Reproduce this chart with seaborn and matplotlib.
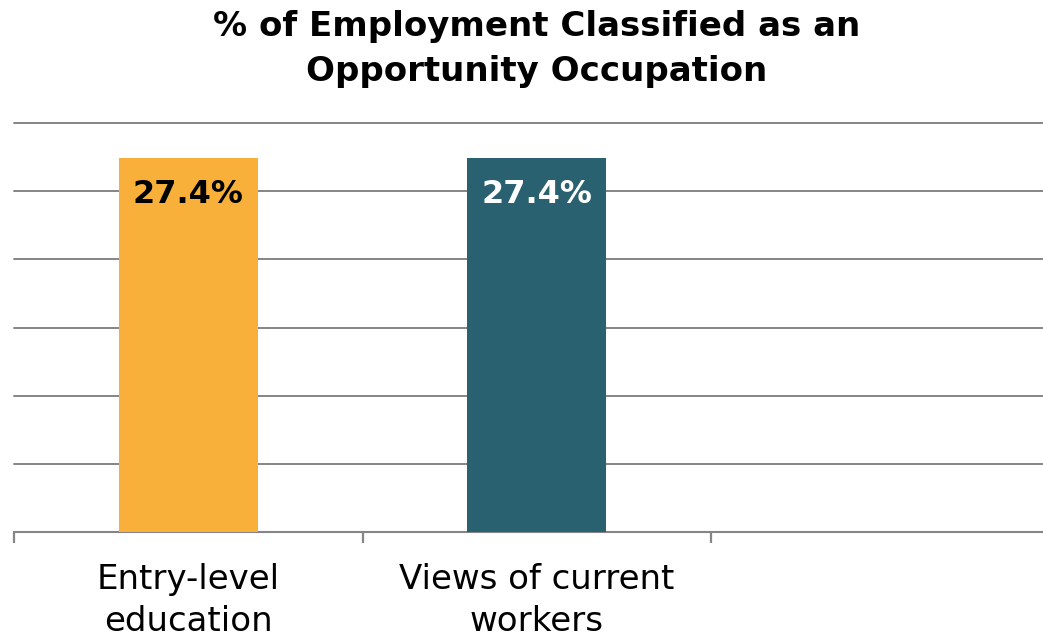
import matplotlib
matplotlib.use("Agg")
import matplotlib.pyplot as plt
import seaborn as sns
import pandas as pd
from matplotlib.ticker import FixedLocator

categories = ["Entry-level\neducation", "Views of current\nworkers"]
values = [27.4, 27.4]
order = categories + [" "]
colors = ["#F8B03A", "#2A6170"]
label_colors = ["#000000", "#FFFFFF"]
value_labels = ["27.4%", "27.4%"]
title = "% of Employment Classified as an\nOpportunity Occupation"

sns.set_style("white")
plt.rcParams["font.family"] = ["DejaVu Sans"]
plt.rcParams["text.color"] = "black"

fig = plt.figure(figsize=(10.43, 6.37), dpi=100)
ax = fig.add_axes([14 / 1043, 1 - 532 / 637, 1045.5 / 1043, 409 / 637])

df = pd.DataFrame({"cat": categories, "val": values})
sns.barplot(data=df, x="cat", y="val", hue="cat", order=order,
            palette=dict(zip(categories, colors)), width=0.4,
            legend=False, ax=ax, saturation=1, zorder=3, linewidth=0)

ax.set_xlim(-0.5, 2.5)
ax.set_ylim(0, 30)
ax.set_yticks([0, 5, 10, 15, 20, 25, 30])
ax.yaxis.grid(True, color="#858585", linewidth=1.4, zorder=0)
ax.set_axisbelow(True)
for gl in ax.get_ygridlines():
    gl.set_clip_on(False)
ax.tick_params(axis="y", left=False, labelleft=False)
for s in ["left", "right", "top"]:
    ax.spines[s].set_visible(False)
ax.spines["bottom"].set_color("#858585")
ax.spines["bottom"].set_linewidth(1.5)

ax.set_xticks([0, 1, 2])
ax.set_xticklabels(order, fontsize=24.5, color="black", linespacing=1.36)
ax.tick_params(axis="x", which="major", length=0, pad=22)
ax.xaxis.set_minor_locator(FixedLocator([-0.5, 0.5, 1.5, 2.5]))
ax.tick_params(axis="x", which="minor", length=8, width=1.6, color="#858585", bottom=True)
ax.set_xlabel("")
ax.set_ylabel("")

for i, (v, lab, lc) in enumerate(zip(values, value_labels, label_colors)):
    ax.annotate(lab, xy=(i, v), xytext=(0, -15), textcoords="offset points",
                ha="center", va="top", fontsize=23, fontweight="bold", color=lc, zorder=5)

fig.text(537 / 1043, 1 - 10 / 637, title, ha="center", va="top", fontsize=24.5,
         fontweight="bold", linespacing=1.45, color="black")

fig.savefig("out.png", dpi=100)
